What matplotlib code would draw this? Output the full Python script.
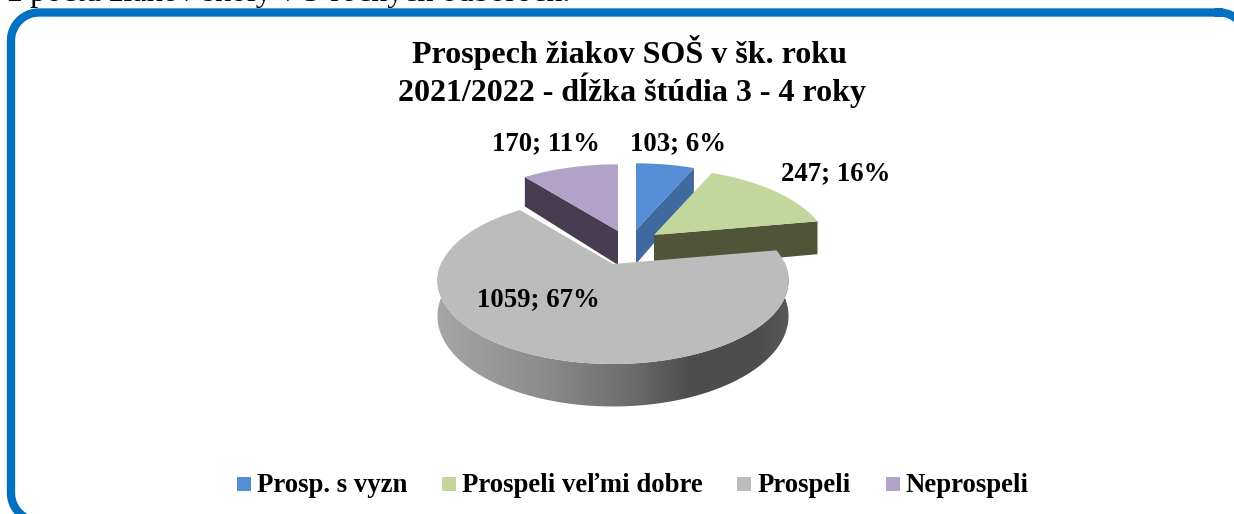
import numpy as np
import matplotlib
matplotlib.use('Agg')
import matplotlib.pyplot as plt
from matplotlib.colors import LinearSegmentedColormap
from matplotlib.patches import Polygon, Rectangle

categories = ['Prosp. s vyzn', 'Prospeli veľmi dobre', 'Prospeli', 'Neprospeli']
values = [103, 247, 1059, 170]
percents = [6, 16, 67, 11]
colors = ['#558ed5', '#c3d69b', '#bcbcbc', '#b3a2c7']
wall_colors = ['#3f699f', '#505439', '#6a6a6a', '#483d50']
label_pos = [(678, 144), (836, 174), (538, 300), (546, 144)]
# how far each slice is pulled out of the pie, in pixels
offsets = [(23, -34), (41, -29), (0, 0), (5, -33)]

W, H = 1234, 514
plt.rcParams['font.family'] = ['Liberation Serif', 'DejaVu Serif']

fig = plt.figure(figsize=(W / 100, H / 100), dpi=100)
ax = fig.add_axes([0, 0, 1, 1])
ax.set_xlim(0, W)
ax.set_ylim(H, 0)
ax.axis('off')

# pie geometry, with a bit of perspective (far side smaller)
cx, cy, a, b, k, depth = 613, 264, 172, 80, 0.2, 34


def project(theta, r=1.0, off=(0, 0), drop=0.0):
    u = r * np.sin(theta)
    v = r * np.cos(theta)
    s = 1 / (1 + k * v)
    return np.column_stack([cx + a * u * s + off[0],
                            cy - b * v * s + off[1] + drop * depth * s])


def draw_slice(t0, t1, i):
    off = offsets[i]
    th = np.linspace(t0, t1, 120)
    apex = project(np.array([0.0]), 0.0, off)
    rim = project(th, 1.0, off)
    apex_low = project(np.array([0.0]), 0.0, off, 1.0)
    top = np.vstack([apex, rim])

    if i == 2:
        # outer wall with left to right shading
        n = th[(th > np.pi / 2 - 0.05) & (th < 3 * np.pi / 2 + 0.05)]
        wall = np.vstack([project(n, 1.0, off), project(n[::-1], 1.0, off, 1.0)])
        patch = Polygon(wall, closed=True, fc='none', ec='none', zorder=2)
        ax.add_patch(patch)
        cmap = LinearSegmentedColormap.from_list(
            'wall', [(0, '#a6a6a6'), (0.3, '#8c8c8c'), (0.55, '#6c6c6c'),
                     (0.72, '#4d4d4d'), (0.9, '#4d4d4d'), (1, '#585858')])
        im = ax.imshow(np.linspace(1, 0, 256)[None, :], cmap=cmap, aspect='auto',
                       extent=(cx + a * 1.03, cx - a * 1.03, H, 0), zorder=2)
        im.set_clip_path(patch)
        ax.set_xlim(0, W)
        ax.set_ylim(H, 0)
    else:
        # radial faces that can be seen from the front
        t = t0 if i == 3 else t1
        edge = project(np.array([t]), 1.0, off)
        edge_low = project(np.array([t]), 1.0, off, 1.0)
        ax.add_patch(Polygon(np.vstack([apex, edge, edge_low, apex_low]), closed=True,
                             fc=wall_colors[i], ec='none', zorder=1))
    ax.add_patch(Polygon(top, closed=True, fc=colors[i], ec='none', zorder=3 if i == 2 else 1.5))


total = sum(values)
angles = np.cumsum([0] + values) / total * 2 * np.pi
for i in [3, 0, 1, 2]:
    draw_slice(angles[i], angles[i + 1], i)

for i in range(len(values)):
    ax.text(label_pos[i][0], label_pos[i][1], f'{values[i]}; {percents[i]}%', fontsize=19.3,
            fontweight='bold', ha='center', va='center', zorder=5)

# frame of the text box, rounded corners built by hand
x0, x1, y0, y1, r = 11, 1247, 12.5, 521, 28
fx, fy = [], []
for ccx, ccy, start in [(x1 - r, y0 + r, -90), (x1 - r, y1 - r, 0), (x0 + r, y1 - r, 90), (x0 + r, y0 + r, 180)]:
    t = np.radians(np.linspace(start, start + 90, 30))
    fx.extend(ccx + r * np.cos(t))
    fy.extend(ccy + r * np.sin(t))
fx.append(fx[0])
fy.append(fy[0])
ax.plot(fx, fy, color='#0070c0', lw=6, zorder=6, solid_joinstyle='round')

ax.text(629, 53, 'Prospech žiakov SOŠ v šk. roku', fontsize=23, fontweight='bold', ha='center', va='center')
ax.text(632, 90, '2021/2022 - dĺžka štúdia 3 - 4 roky', fontsize=23, fontweight='bold', ha='center', va='center')
ax.text(8, 1.5, 'z počtu žiakov školy v 3-ročných odboroch.', fontsize=23, ha='left', va='baseline')

# legend
leg_sq = [237, 442, 737, 886]
leg_txt = [257, 462, 758, 906]
for i in range(len(categories)):
    ax.add_patch(Rectangle((leg_sq[i], 477), 14, 14, fc=colors[i], ec='none'))
    ax.text(leg_txt[i], 486, categories[i], fontsize=19.3, fontweight='bold', ha='left', va='center')

fig.savefig('out.png', dpi=100)
